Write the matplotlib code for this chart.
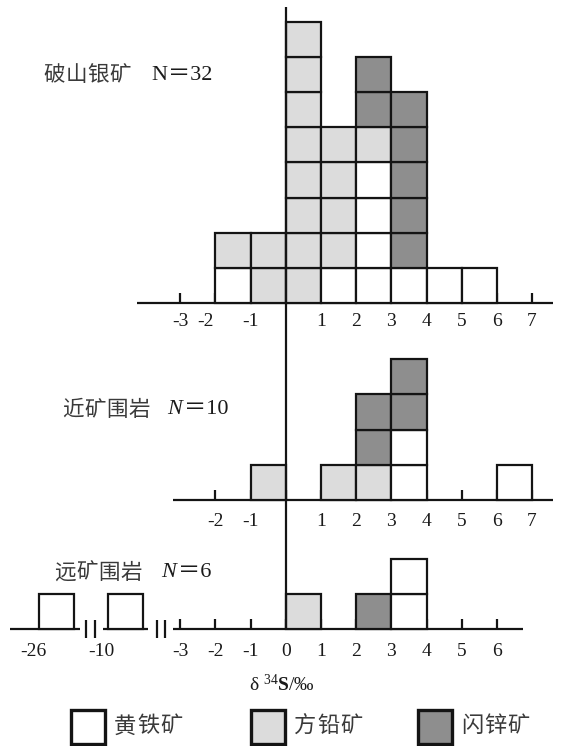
import matplotlib
matplotlib.use("Agg")
import matplotlib.pyplot as plt
from matplotlib.patches import Rectangle

# ---------------- data ----------------
minerals = ["黄铁矿", "方铅矿", "闪锌矿"]          # pyrite, galena, sphalerite
colors = ["#ffffff", "#dcdcdc", "#8e8e8e"]

# panel 1: 破山银矿  (bin lower edges, counts stacked pyrite -> galena -> sphalerite)
p1_title = "破山银矿"
p1_n = "N"
p1_nval = "＝32"
p1_bins = [-2, -1, 0, 1, 2, 3, 4, 5]
p1_pyrite = [1, 0, 0, 1, 4, 1, 1, 1]
p1_galena = [1, 2, 8, 4, 1, 0, 0, 0]
p1_sphal = [0, 0, 0, 0, 2, 5, 0, 0]
p1_ticks = [-3, -2, -1, 0, 1, 2, 3, 4, 5, 6, 7]
p1_labels = ["-3", "-2", "-1", "", "1", "2", "3", "4", "5", "6", "7"]

# panel 2: 近矿围岩
p2_title = "近矿围岩"
p2_n = "N"
p2_nval = "＝10"
p2_bins = [-1, 0, 1, 2, 3, 4, 5, 6]
p2_pyrite = [0, 0, 0, 0, 2, 0, 0, 1]
p2_galena = [1, 0, 1, 1, 0, 0, 0, 0]
p2_sphal = [0, 0, 0, 2, 2, 0, 0, 0]
p2_ticks = [-2, -1, 0, 1, 2, 3, 4, 5, 6, 7]
p2_labels = ["-2", "-1", "", "1", "2", "3", "4", "5", "6", "7"]

# panel 3: 远矿围岩 (broken axis: -26, -10 segments)
p3_title = "远矿围岩"
p3_n = "N"
p3_nval = "＝6"
p3_bins = [-26, -10, 0, 1, 2, 3]
p3_pyrite = [1, 1, 0, 0, 0, 2]
p3_galena = [0, 0, 1, 0, 0, 0]
p3_sphal = [0, 0, 0, 0, 1, 0]
p3_ticks = [-3, -2, -1, 0, 1, 2, 3, 4, 5, 6]
p3_labels = ["-3", "-2", "-1", "0", "1", "2", "3", "4", "5", "6"]
p3_far_labels = [-26, -10]

xlabel = r"δ $^{34}$$\mathbf{S}$/‰"

# ---------------- layout ----------------
plt.rcParams["mathtext.fontset"] = "custom"
plt.rcParams["mathtext.rm"] = "Liberation Serif"
plt.rcParams["mathtext.it"] = "Liberation Serif:italic"
plt.rcParams["mathtext.bf"] = "Liberation Serif:bold"

W, H = 571, 746
fig = plt.figure(figsize=(W / 100, H / 100), dpi=100)
ax = fig.add_axes([0, 0, 1, 1])
X0, U = 285.7, 35.2
ax.set_xlim(-X0 / U, (W - X0) / U)
ax.set_ylim(0, H / U)
ax.axis("off")


def px_x(p):
    return (p - X0) / U


def px_y(p):
    return (H - p) / U


LW = 1.6
EC = "#141414"
SERIF = ["Liberation Serif", "Noto Sans CJK SC"]
CJK = ["Noto Sans CJK SC", "DejaVu Sans"]
TXT = "#3a3a3a"
NUM = "#1a1a1a"
TICK_H = 10 / U
TICK_FS = 14


def broken(v):
    if v < -20:
        return v + 19.0
    if v < -5:
        return v + 4.952
    return v


def draw_stack(bins, py, ga, sp, base, mapper=lambda v: v):
    for i, b in enumerate(bins):
        level = 0
        for counts, col in zip((py, ga, sp), colors):
            for _ in range(counts[i]):
                ax.add_patch(Rectangle((mapper(b), base + level), 1, 1, fc=col,
                                       ec=EC, lw=LW, zorder=3))
                level += 1


def draw_axis(x_from, x_to, base, ticks, labels, lab_dy, shifts=None):
    ax.plot([x_from, x_to], [base, base], color=EC, lw=LW, zorder=2,
            solid_capstyle="butt")
    ax.vlines(ticks, base, base + TICK_H, color=EC, lw=LW, zorder=2)
    shifts = shifts or {}
    for t, lab in zip(ticks, labels):
        if lab:
            ax.text(t + shifts.get(t, 0), base - lab_dy / U, lab, ha="center",
                    va="center", fontsize=TICK_FS, family=SERIF, color=NUM)


def cjk_text(x_px, y_px, s, pitch=22.0, fs=15.5):
    for k, ch in enumerate(s):
        ax.text(px_x(x_px + k * pitch + pitch / 2), px_y(y_px), ch, ha="center",
                va="center", fontsize=fs, family=CJK, color=TXT)


def n_text(x_px, y_px, n, val, italic):
    ax.text(px_x(x_px), px_y(y_px), n, ha="left", va="center", fontsize=16,
            family=SERIF, style="italic" if italic else "normal", color=NUM)
    ax.text(px_x(x_px + 17), px_y(y_px), val, ha="left", va="center",
            fontsize=16, family=SERIF, color=NUM)


b1, b2, b3 = px_y(303.3), px_y(500.0), px_y(629.3)

# vertical zero line
ax.plot([0, 0], [px_y(7.3), b3], color=EC, lw=LW, zorder=4, solid_capstyle="butt")

# panel 1
draw_axis(px_x(136.7), px_x(553), b1, p1_ticks, p1_labels, 18, {-2: -0.27})
draw_stack(p1_bins, p1_pyrite, p1_galena, p1_sphal, b1)
cjk_text(43, 75, p1_title)
n_text(151, 75, p1_n, p1_nval, False)

# panel 2
draw_axis(px_x(173.3), px_x(553), b2, p2_ticks, p2_labels, 21.5)
draw_stack(p2_bins, p2_pyrite, p2_galena, p2_sphal, b2)
cjk_text(62, 410, p2_title)
n_text(167, 410, p2_n, p2_nval, True)

# panel 3 (broken axis)
segs = [(px_x(10), px_x(80)), (px_x(103), px_x(148)), (px_x(173), px_x(523))]
for a, b in segs:
    ax.plot([a, b], [b3, b3], color=EC, lw=LW, zorder=2, solid_capstyle="butt")
ax.vlines(p3_ticks, b3, b3 + TICK_H, color=EC, lw=LW, zorder=2)
for tck, lab in zip(p3_ticks, p3_labels):
    ax.text(tck, b3 - 22 / U, lab, ha="center", va="center", fontsize=TICK_FS,
            family=SERIF, color=NUM)
for v in p3_far_labels:
    ax.text(broken(v) - 0.18, b3 - 22 / U, str(v), ha="center", va="center",
            fontsize=TICK_FS, family=SERIF, color=NUM)
for bx in (86, 95, 156.7, 165):
    ax.plot([px_x(bx), px_x(bx)], [b3 - 9 / U, b3 + 9 / U], color=EC, lw=LW,
            zorder=2, solid_capstyle="butt")
draw_stack(p3_bins, p3_pyrite, p3_galena, p3_sphal, b3, broken)
cjk_text(54, 572.7, p3_title)
n_text(161, 572.7, p3_n, p3_nval, True)

# x label
ax.text(px_x(282), px_y(685), xlabel, ha="center", va="center", fontsize=14,
        family=SERIF, color=NUM)

# legend
leg_x = [70.7, 250.5, 418]
for lx, name, col in zip(leg_x, minerals, colors):
    ax.add_patch(Rectangle((px_x(lx), px_y(744)), 34 / U, 34 / U, fc=col,
                           ec=EC, lw=2.4, zorder=3))
    cjk_text(lx + 43, 726, name, pitch=23.0, fs=16)

fig.savefig("out.png", dpi=100)
